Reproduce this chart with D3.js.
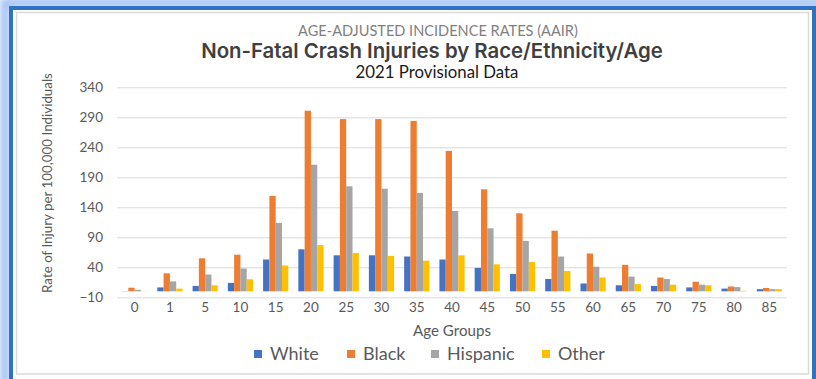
<!DOCTYPE html>
<html>
<head>
<meta charset="utf-8">
<script src="https://cdn.jsdelivr.net/npm/d3@7/dist/d3.min.js"></script>
<style>
  html, body { margin: 0; padding: 0; background: #ffffff; }
  svg { display: block; }
</style>
</head>
<body>
<svg id="chart" width="816" height="379"></svg>
<script>
// Age groups (years) on the horizontal axis
const ageGroups = ["0", "1", "5", "10", "15", "20", "25", "30", "35", "40", "45", "50", "55", "60", "65", "70", "75", "80", "85"];

// Rate of injury per 100,000 individuals, by group
const white    = [0.3, 6.5, 9, 14, 53, 70, 60, 60, 58, 53, 39, 29, 20.5, 13, 10, 9, 6.5, 4.5, 3.5];
const black    = [6, 30, 55, 61, 159, 301, 287, 287, 284, 234, 170, 130, 101, 63, 44, 23, 16, 8, 5.5];
const hispanic = [2.5, 16.5, 28, 38, 114, 211, 175, 171, 164, 134, 105, 84, 58, 41, 24.5, 20.5, 11, 7, 3.5];
const other    = [0.3, 4.5, 10, 20, 43, 77, 64, 59, 51, 60, 45, 49, 34, 23, 12, 11, 10, 0.8, 3.5];

const seriesNames = ["White", "Black", "Hispanic", "Other"];
const yTicks = [-10, 40, 90, 140, 190, 240, 290, 340];

const seriesValues = [white, black, hispanic, other];
const colors = ["#4472C4", "#ED7D31", "#A5A5A5", "#FFC000"];

const svg = d3.select("#chart");
const W = 816, H = 379;

// ---- frame: soft blue glow, blue border, inner light panel ----
const defs = svg.append("defs");
const glow = defs.append("filter").attr("id", "glow")
  .attr("x", "-10%").attr("y", "-10%").attr("width", "120%").attr("height", "120%");
glow.append("feGaussianBlur").attr("stdDeviation", 3);

svg.append("rect").attr("x", 0).attr("y", 0).attr("width", W).attr("height", H).attr("fill", "#ffffff");
svg.append("rect").attr("x", 5).attr("y", 3).attr("width", W + 20).attr("height", H + 40)
  .attr("fill", "none").attr("stroke", "#a9c6f6").attr("stroke-width", 10).attr("filter", "url(#glow)");
svg.append("rect").attr("x", 11).attr("y", 8).attr("width", 803).attr("height", H + 40)
  .attr("fill", "#ffffff").attr("stroke", "#2f72c4").attr("stroke-width", 4);
svg.append("rect").attr("x", 16.5).attr("y", 12.5).attr("width", 792).attr("height", 361.5)
  .attr("fill", "#ffffff").attr("stroke", "#dadada").attr("stroke-width", 1.5);

// ---- scales ----
const plot = { left: 117, right: 787, top: 87.3, bottom: 297.3 };

const x0 = d3.scaleBand().domain(ageGroups).range([plot.left, plot.right]).paddingInner(0).paddingOuter(0);
const x1 = d3.scaleBand().domain(seriesNames).range([0, x0.bandwidth()]).paddingInner(0).paddingOuter(0.8);
const y = d3.scaleLinear().domain([-10, 340]).range([plot.bottom, plot.top]);

// ---- gridlines ----
const yAxis = d3.axisLeft(y).tickValues(yTicks).tickSize(-(plot.right - plot.left)).tickPadding(14);
const gy = svg.append("g").attr("transform", `translate(${plot.left},0)`).call(yAxis);
gy.select(".domain").remove();
gy.selectAll(".tick line").attr("stroke", "#d9d9d9").attr("stroke-width", 1);
gy.selectAll(".tick text")
  .attr("font-family", "Lato, 'Open Sans', sans-serif").attr("font-size", 13.5)
  .attr("fill", "#595959");

// ---- bars ----
const rows = ageGroups.map((g, i) => ({ group: g, vals: seriesNames.map((s, k) => ({ series: s, k, v: seriesValues[k][i] })) }));
const groups = svg.append("g").selectAll("g").data(rows).join("g")
  .attr("transform", d => `translate(${x0(d.group)},0)`);
groups.selectAll("rect").data(d => d.vals).join("rect")
  .attr("x", d => x1(d.series))
  .attr("width", x1.bandwidth())
  .attr("y", d => y(Math.max(0, d.v)))
  .attr("height", d => Math.abs(y(d.v) - y(0)))
  .attr("fill", d => colors[d.k]);

// ---- x axis labels (placed below the plot, axis crosses at zero) ----
const xAxis = d3.axisBottom(x0).tickSize(0).tickPadding(0);
const gx = svg.append("g").attr("transform", `translate(0,${plot.bottom + 5})`).call(xAxis);
gx.select(".domain").remove();
gx.selectAll(".tick text")
  .attr("font-family", "Lato, 'Open Sans', sans-serif").attr("font-size", 13.5)
  .attr("fill", "#595959").attr("dy", "0.71em");

// ---- helper: scale a text's font size so it spans a given width ----
function fitWidth(sel, target) {
  const node = sel.node();
  const fs = parseFloat(sel.attr("font-size"));
  const len = node.getComputedTextLength();
  if (len > 0) sel.attr("font-size", (fs * target / len).toFixed(2));
  return sel;
}

// ---- axis titles ----
const xt = svg.append("text").attr("x", (plot.left + plot.right) / 2).attr("y", 336)
  .attr("text-anchor", "middle").attr("font-family", "Lato, 'Open Sans', sans-serif")
  .attr("font-size", 14.5).attr("fill", "#595959").text("Age Groups");
fitWidth(xt, 78);

const yt = svg.append("text").attr("transform", `translate(52,183) rotate(-90)`)
  .attr("text-anchor", "middle").attr("font-family", "Lato, 'Open Sans', sans-serif")
  .attr("font-size", 14).attr("fill", "#595959").text("Rate of Injury per 100,000 Individuals");
fitWidth(yt, 220);

// ---- titles ----
const t1 = svg.append("text").attr("x", 438).attr("y", 36).attr("text-anchor", "middle")
  .attr("font-family", "Lato, 'Open Sans', sans-serif").attr("font-size", 14)
  .attr("fill", "#7f7f7f").text("AGE-ADJUSTED INCIDENCE RATES (AAIR)");
fitWidth(t1, 280);

const t2 = svg.append("text").attr("x", 432).attr("y", 57.5).attr("text-anchor", "middle")
  .attr("font-family", "Inter, 'Open Sans', sans-serif").attr("font-weight", 600).attr("font-size", 18)
  .attr("fill", "#404040").text("Non-Fatal Crash Injuries by Race/Ethnicity/Age");
fitWidth(t2, 462);

const t3 = svg.append("text").attr("x", 437).attr("y", 77.5).attr("text-anchor", "middle")
  .attr("font-family", "Lato, 'Open Sans', sans-serif").attr("font-size", 15)
  .attr("fill", "#1a1a1a").text("2021 Provisional Data");
fitWidth(t3, 163);

// ---- legend ----
const legendX = [254, 347, 431, 542];
const lg = svg.append("g").selectAll("g").data(seriesNames).join("g")
  .attr("transform", (d, i) => `translate(${legendX[i]},0)`);
lg.append("rect").attr("x", 0).attr("y", 350).attr("width", 8).attr("height", 8)
  .attr("fill", (d, i) => colors[i]);
lg.append("text").attr("x", 16).attr("y", 360)
  .attr("font-family", "Lato, 'Open Sans', sans-serif").attr("font-size", 18)
  .attr("fill", "#595959").text(d => d);
</script>
</body>
</html>
